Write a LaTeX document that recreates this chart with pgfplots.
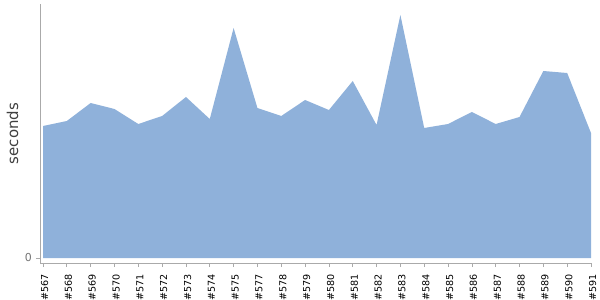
\documentclass[border=0pt]{standalone}
\usepackage{pgfplots}
\pgfplotsset{compat=1.18}
\usepackage{fontspec}
\setmainfont{DejaVu Sans}
\definecolor{areafill}{RGB}{143,177,218}
\definecolor{axgray}{RGB}{170,170,170}
\begin{document}
\begin{tikzpicture}
\path[use as bounding box] (-30pt,-27.75pt) rectangle (420pt,197.25pt);
\begin{axis}[
  at={(0pt,0pt)}, anchor=origin,
  scale only axis,
  width=413.25pt, height=194.25pt,
  anchor=south west,
  xmin=-0.126, xmax=23,
  ymin=-5, ymax=254,
  axis x line=bottom, axis y line=left,
  axis line style={-, draw=axgray, line width=0.6pt},
  xtick={0,...,23},
  xticklabels={\#567,\#568,\#569,\#570,\#571,\#572,\#573,\#574,\#575,\#577,\#578,\#579,\#580,\#581,\#582,\#583,\#584,\#585,\#586,\#587,\#588,\#589,\#590,\#591},
  xticklabel style={rotate=90, anchor=east, font=\fontsize{7.2pt}{8pt}\selectfont, inner sep=0pt, xshift=-5pt, yshift=-1.2pt},
  ytick={0},
  yticklabel style={font=\fontsize{8.2pt}{9pt}\selectfont, text=black!55, inner sep=0pt, xshift=-3pt},
  tick align=outside,
  major tick length=3pt,
  tick style={draw=axgray, line width=0.5pt},
  ylabel={seconds},
  ylabel style={at={(axis description cs:-0.05,0.5)}, anchor=center, font=\fontsize{11.2pt}{12pt}\selectfont, text=black!75},
  /pgf/number format/assume math mode=true,
  clip=false,
]
\addplot[fill=areafill, draw=none] coordinates {
(0,132) (1,137) (2,155) (3,149) (4,134) (5,142) (6,161) (7,139) (8,230) (9,150) (10,142) (11,158) (12,148) (13,177) (14,133) (15,243) (16,130) (17,134) (18,146) (19,134) (20,141) (21,187) (22,185) (23,125)
} |- (axis cs:0,0) -- cycle;
\end{axis}
\end{tikzpicture}
\end{document}
